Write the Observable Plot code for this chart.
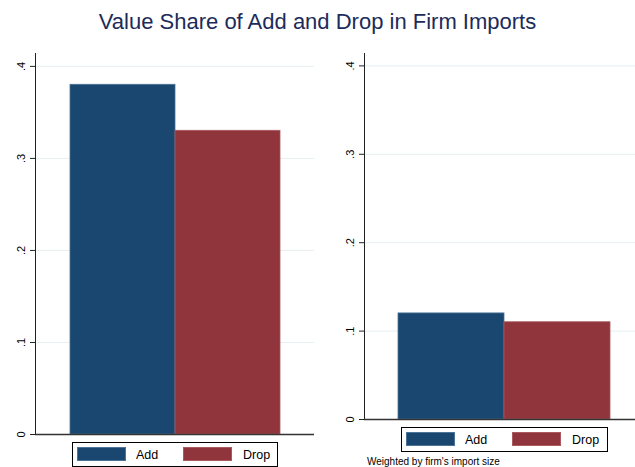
<!DOCTYPE html>
<html><head><meta charset="utf-8">
<script src="https://cdn.jsdelivr.net/npm/d3@7"></script>
<script src="https://cdn.jsdelivr.net/npm/@observablehq/plot@0.6"></script>
<style>
body{margin:0;background:#fff;font-family:"Liberation Sans",Arial,sans-serif;}
#wrap{position:relative;width:635px;height:467px;overflow:hidden;background:#fff;}
.title{position:absolute;left:0;width:635px;top:9px;line-height:26px;text-align:center;font-size:22px;color:#1c2b5a;white-space:nowrap;}
.panel{position:absolute;top:0;}
.legend{position:absolute;border:1px solid #000;box-sizing:border-box;height:25px;background:#fff;}
.sw{position:absolute;top:4px;width:49px;height:14px;box-sizing:border-box;}
.lab{position:absolute;top:5px;font-size:12.5px;line-height:14px;color:#000;}
.caption{position:absolute;left:367px;top:457px;font-size:10px;line-height:10px;white-space:nowrap;color:#000;}
</style>
</head><body>
<div id="wrap">
  <div class="panel" id="left" style="left:0px"></div>
  <div class="panel" id="right" style="left:320px"></div>
  <div class="title">Value Share of Add and Drop in Firm Imports</div>
  <div class="legend" id="legL" style="left:72px;top:442px;width:206px"></div>
  <div class="legend" id="legR" style="left:401px;top:427px;width:207px"></div>
  <div class="caption">Weighted by firm's import size</div>
</div>
<script>
const categories = ["Add", "Drop"];
const unweightedShare = [0.38, 0.33];
const weightedShare = [0.12, 0.11];
const yTicks = [0, 0.1, 0.2, 0.3, 0.4];
const fillColors = ["#1a476f", "#90353b"];
const edgeColors = ["#4d7396", "#a85a60"];
const captionText = "Weighted by firm's import size";

const fmt = d => d === 0 ? "0" : String(d).replace(/^0/, "");

function panel(values, o) {
  const data = categories.map((c, i) => ({cat: c, value: values[i], fill: fillColors[i], edge: edgeColors[i]}));
  return Plot.plot({
    width: o.width, height: o.height,
    marginLeft: o.marginLeft, marginRight: o.marginRight,
    marginTop: 53, marginBottom: o.marginBottom,
    style: {background: "transparent", fontFamily: "Liberation Sans, Arial, sans-serif", fontSize: "11px", color: "#000", overflow: "visible"},
    x: {type: "band", domain: categories, padding: 0, insetLeft: o.insetLeft, insetRight: o.insetRight, axis: null},
    y: {domain: [0, 0.414], axis: null},
    marks: [
      Plot.ruleY(yTicks.slice(1), {stroke: "#e6eff1", strokeWidth: 1}),
      Plot.barY(data, {x: "cat", y: "value", fill: "fill", stroke: "edge", strokeWidth: 0.8}),
      Plot.frame({anchor: "left", stroke: "#222", strokeWidth: 1}),
      Plot.ruleY([0], {stroke: "#333", strokeWidth: 1.6}),
      Plot.axisY({ticks: yTicks, tickFormat: fmt, tickSize: 5, tickRotate: -90, tickPadding: 6, stroke: "#222", label: null})
    ]
  });
}

document.getElementById("left").append(panel(unweightedShare, {width: 320, height: 440, marginLeft: 35, marginRight: 6, marginBottom: 6, insetLeft: 34, insetRight: 34}));
document.getElementById("right").append(panel(weightedShare, {width: 315, height: 425, marginLeft: 44, marginRight: 0, marginBottom: 6, insetLeft: 34, insetRight: 25}));

function legend(el) {
  const offs = [[4, 63], [110, 170]];
  categories.forEach((c, i) => {
    const sw = document.createElement("div");
    sw.className = "sw";
    sw.style.left = offs[i][0] + "px";
    sw.style.background = fillColors[i];
    sw.style.border = "1px solid " + edgeColors[i];
    el.append(sw);
    const lab = document.createElement("div");
    lab.className = "lab";
    lab.style.left = offs[i][1] + "px";
    lab.textContent = c;
    el.append(lab);
  });
}
legend(document.getElementById("legL"));
legend(document.getElementById("legR"));
</script>
</body></html>
